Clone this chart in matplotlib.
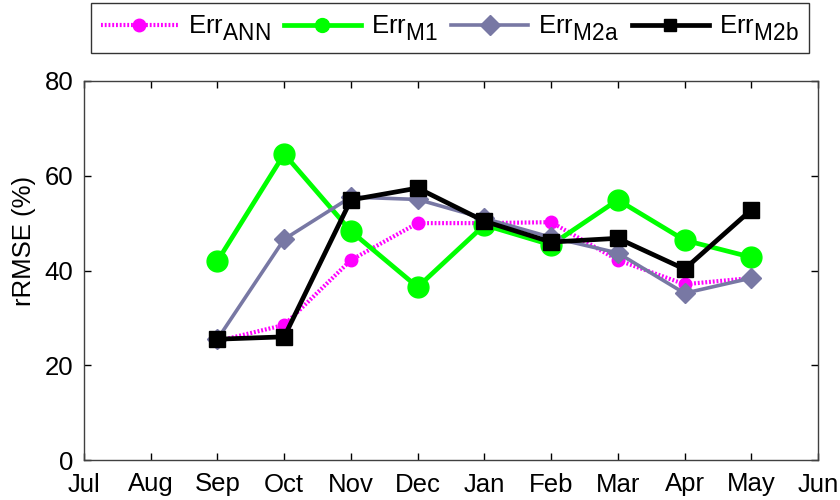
import matplotlib
matplotlib.use("Agg")
import matplotlib.pyplot as plt
import matplotlib._mathtext as mt

plt.rcParams['font.family'] = ['Liberation Sans', 'DejaVu Sans']
plt.rcParams['mathtext.fontset'] = 'custom'
plt.rcParams['mathtext.rm'] = 'Liberation Sans'
plt.rcParams['mathtext.it'] = 'Liberation Sans'
# larger, lower subscripts for the legend labels
mt.SHRINK_FACTOR = 0.88
mt.FontConstantsBase.sub1 = 0.5
mt.FontConstantsBase.sub2 = 0.6

months = ['Jul', 'Aug', 'Sep', 'Oct', 'Nov', 'Dec', 'Jan', 'Feb', 'Mar', 'Apr', 'May', 'Jun']
# Values available from Sep through May
data_months = ['Sep', 'Oct', 'Nov', 'Dec', 'Jan', 'Feb', 'Mar', 'Apr', 'May']
err_ann = [25.1, 28.5, 42.2, 50.0, 50.0, 50.2, 42.2, 37.1, 38.4]
err_m1 = [42.0, 64.6, 48.3, 36.5, 49.6, 45.4, 54.9, 46.4, 42.8]
err_m2a = [25.5, 46.6, 55.5, 55.0, 51.0, 47.0, 43.7, 35.2, 38.4]
err_m2b = [25.5, 26.0, 54.9, 57.4, 50.4, 46.0, 46.8, 40.3, 52.8]

x = [months.index(m) for m in data_months]

FS = 18.5

fig = plt.figure(figsize=(8.4, 5.0), dpi=100)
ax = fig.add_axes([84 / 840, 40 / 500, (818 - 84) / 840, (460 - 81) / 500])

ax.plot(x, err_ann, color='#FF00FF', lw=3.0, ls=(0, (0.45, 0.45)),
        dash_capstyle='butt', marker='o', ms=9, mec='#FF00FF',
        label=r'Err$_{\mathrm{ANN}}$')
ax.plot(x, err_m1, color='#00FF00', lw=3.4, marker='o', ms=15,
        label=r'Err$_{\mathrm{M1}}$')
ax.plot(x, err_m2a, color='#7878A4', lw=2.6, marker='D', ms=10,
        label=r'Err$_{\mathrm{M2a}}$')
ax.plot(x, err_m2b, color='black', lw=3.4, marker='s', ms=11.5,
        label=r'Err$_{\mathrm{M2b}}$')

ax.set_xlim(0, 11)
ax.set_ylim(0, 80)
ax.set_xticks(range(len(months)))
ax.set_xticklabels(months)
ax.set_yticks([0, 20, 40, 60, 80])
ax.tick_params(direction='in', length=5, width=1, top=True, right=True,
               labelsize=FS)
ax.tick_params(axis='x', pad=9)
ax.tick_params(axis='y', pad=7.5)
for s in ax.spines.values():
    s.set_linewidth(1.0)
    s.set_color('#404040')
ax.set_ylabel('rRMSE (%)', fontsize=FS)
ax.yaxis.set_label_coords(-0.066, 0.578)

leg = fig.legend(loc='center', bbox_to_anchor=(450 / 840, 1 - 28 / 500),
                 ncol=4, fontsize=FS, frameon=True, fancybox=False,
                 edgecolor='black', handlelength=3.0, handletextpad=0.4,
                 columnspacing=0.5, borderpad=0.4, borderaxespad=0)
leg.get_frame().set_linewidth(1.0)
for h, ms in zip(leg.legend_handles, [9, 10, 10, 9]):
    h.set_markersize(ms)

fig.savefig('out.png', dpi=100)
